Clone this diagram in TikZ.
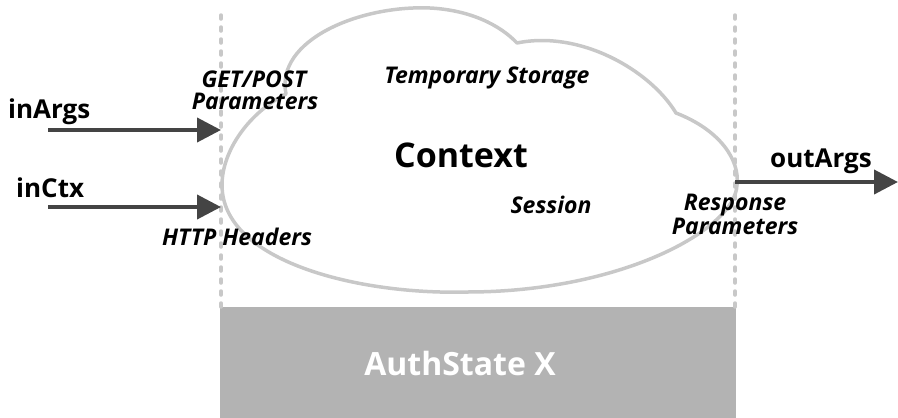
\documentclass[tikz,border=0pt]{standalone}
\usepackage{fontspec}
\setmainfont{Open Sans}
\usetikzlibrary{arrows.meta}
\definecolor{cloudgray}{HTML}{C8C8C8}
\definecolor{boxgray}{HTML}{B3B3B3}
\definecolor{arrowgray}{HTML}{444444}
\tikzset{
  sep/.style={cloudgray, line width=3.5pt, line cap=round, dash pattern=on 4pt off 8pt},
  flow/.style={arrowgray, line width=4pt, -{Triangle[length=24pt,width=24pt]}},
  arglabel/.style={font=\fontsize{26}{28}\selectfont\bfseries, anchor=base west, inner sep=0pt},
  itlabel/.style={font=\fontsize{23}{23}\selectfont\bfseries\itshape, align=center, inner sep=0pt},
}
\begin{document}
\begin{tikzpicture}[x=1pt,y=-1pt]
\useasboundingbox (0,0) rectangle (898,418);
% state box
\node[fill=boxgray, minimum width=516pt, minimum height=111pt, inner sep=0pt, anchor=north west] (state) at (220,307) {};
\node[text=white, font=\fontsize{32}{32}\selectfont\bfseries, anchor=base] (stateLabel) at (460,375) {AuthState X};
% separators
\coordinate (lTop) at (221,15);
\coordinate (lBot) at (221,307);
\coordinate (rTop) at (735,15);
\coordinate (rBot) at (735,307);
\draw[sep] (lTop) -- (lBot);
\draw[sep] (rTop) -- (rBot);
% cloud
\draw[cloudgray, line width=3.5pt, line join=round]
  (286,94) .. controls (275,40) and (360,5) .. (430,8)
  .. controls (470,10) and (500,25) .. (517,43)
  .. controls (580,30) and (650,70) .. (676,113)
  .. controls (720,130) and (740,160) .. (737,185)
  .. controls (735,230) and (620,292) .. (467,292)
  .. controls (360,295) and (222,262) .. (222,185)
  .. controls (222,150) and (250,112) .. (286,94) -- cycle;
% arrows
\coordinate (inArgsStart) at (48,130);
\coordinate (inArgsEnd) at (221,130);
\coordinate (inCtxStart) at (48,207);
\coordinate (inCtxEnd) at (221,207);
\coordinate (outStart) at (735,182);
\coordinate (outEnd) at (898,182);
\draw[flow] (inArgsStart) -- (inArgsEnd);
\draw[flow] (inCtxStart) -- (inCtxEnd);
\draw[flow] (outStart) -- (outEnd);
% labels
\node[arglabel] (inArgs) at (8,118) {inArgs};
\node[arglabel] (inCtx) at (16,197) {inCtx};
\node[arglabel] (outArgs) at (770,167) {outArgs};
\node[font=\fontsize{34}{34}\selectfont\bfseries, anchor=base] (context) at (461,167) {Context};
\node[itlabel, anchor=base] (getpost) at (254,87) {GET/POST};
\node[itlabel, anchor=base] (getpost2) at (255,109) {Parameters};
\node[itlabel, anchor=base] (temp) at (487,83) {Temporary Storage};
\node[itlabel, anchor=base] (session) at (551,213) {Session};
\node[itlabel, anchor=base] (http) at (237,245) {HTTP Headers};
\node[itlabel, anchor=base] (resp) at (735,210) {Response};
\node[itlabel, anchor=base] (resp2) at (735,234) {Parameters};
\end{tikzpicture}
\end{document}
